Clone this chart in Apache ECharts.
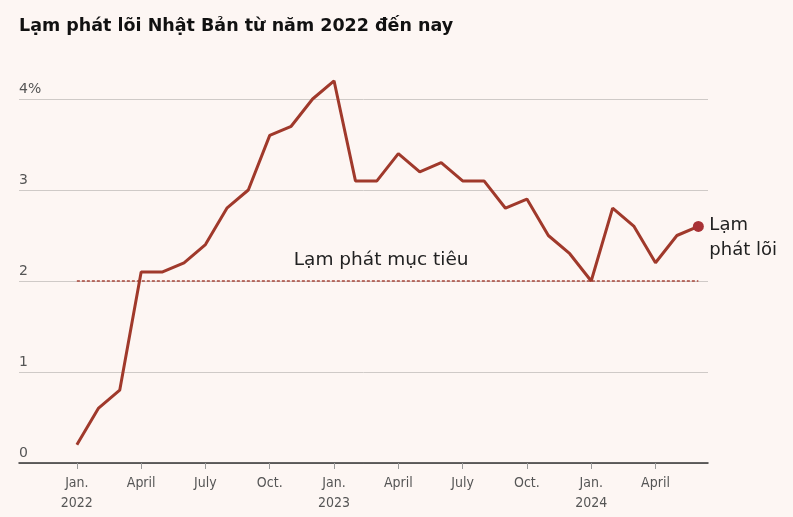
<!DOCTYPE html>
<html><head><meta charset="utf-8">
<script src="https://cdn.jsdelivr.net/npm/echarts@6/dist/echarts.min.js"></script>
<style>html,body{margin:0;padding:0;background:#fdf6f3}#c{width:793px;height:517px}</style>
</head><body><div id="c"></div>
<script>
const months = ['2022-01','2022-02','2022-03','2022-04','2022-05','2022-06','2022-07','2022-08','2022-09','2022-10','2022-11','2022-12',
 '2023-01','2023-02','2023-03','2023-04','2023-05','2023-06','2023-07','2023-08','2023-09','2023-10','2023-11','2023-12',
 '2024-01','2024-02','2024-03','2024-04','2024-05','2024-06'];
const coreInflation = [0.2,0.6,0.8,2.1,2.1,2.2,2.4,2.8,3.0,3.6,3.7,4.0,
 4.2,3.1,3.1,3.4,3.2,3.3,3.1,3.1,2.8,2.9,2.5,2.3,
 2.0,2.8,2.6,2.2,2.5,2.6];
const targetRate = 2;
const tickMonths = [0,3,6,9,12,15,18,21,24,27];
const tickLabels = ['Jan.\n2022','April','July','Oct.','Jan.\n2023','April','July','Oct.','Jan.\n2024','April'];
const yTicks = [0,1,2,3,4];
const yLabels = ['0','1','2','3','4%'];

const chart = echarts.init(document.getElementById('c'));
const last = coreInflation.length - 1;
chart.setOption({
  backgroundColor: '#fdf6f3',
  animation: false,
  title: {
    text: 'Lạm phát lõi Nhật Bản từ năm 2022 đến nay',
    left: 19, top: 17, padding: 0,
    textStyle: {fontFamily: '"DejaVu Sans"', fontWeight: 'bold', fontSize: 17.5, color: '#111'}
  },
  grid: {left: 19, right: 85, top: 99, bottom: 54},
  xAxis: {
    type: 'value', min: -2.7, max: 29.45,
    axisLine: {show: true, lineStyle: {color: '#333', width: 1.5}},
    axisTick: {show: true, customValues: tickMonths, length: 6, lineStyle: {color: '#999'}},
    axisLabel: {
      customValues: tickMonths, margin: 10,
      formatter: v => tickLabels[tickMonths.indexOf(v)] || '',
      color: '#555', fontSize: 14, lineHeight: 20,
      fontFamily: '"Liberation Sans Narrow","DejaVu Sans Condensed",sans-serif'
    },
    splitLine: {show: false}
  },
  yAxis: {
    type: 'value', min: 0, max: 4, interval: 1,
    axisLine: {show: false}, axisTick: {show: false},
    axisLabel: {
      inside: true, verticalAlign: 'bottom', margin: 0, padding: [0, 0, 3, 0],
      formatter: v => yLabels[yTicks.indexOf(v)],
      color: '#555', fontSize: 14, fontFamily: '"DejaVu Sans"'
    },
    splitLine: {lineStyle: {color: '#cfcac7', width: 1}}
  },
  series: [
    {
      type: 'line', name: 'target',
      data: [[0, targetRate], [last, targetRate]],
      symbol: 'none', silent: true,
      lineStyle: {color: '#a8453a', width: 1.5, type: [3, 2]},
      z: 2
    },
    {
      type: 'line', name: 'core',
      data: coreInflation.map((v, i) => [i, v]),
      clip: false,
      symbol: 'circle', showSymbol: true,
      symbolSize: (val, p) => p.dataIndex === last ? 11 : 0,
      itemStyle: {color: '#a83236'},
      lineStyle: {color: '#a0392b', width: 3},
      endLabel: {
        show: true, formatter: 'Lạm\nphát lõi', distance: 11, offset: [0, 11],
        fontFamily: '"DejaVu Sans"', fontSize: 18, lineHeight: 25, color: '#222', align: 'left'
      },
      z: 3
    }
  ],
  graphic: []
});
const pos = chart.convertToPixel({xAxisIndex: 0, yAxisIndex: 0}, [14.2, targetRate]);
chart.setOption({graphic: [{
  type: 'text', x: pos[0], y: pos[1] - 11,
  style: {text: 'Lạm phát mục tiêu', fontFamily: '"DejaVu Sans"', fontSize: 18.5, fill: '#222', align: 'center', verticalAlign: 'bottom'}
}]});
</script></body></html>
